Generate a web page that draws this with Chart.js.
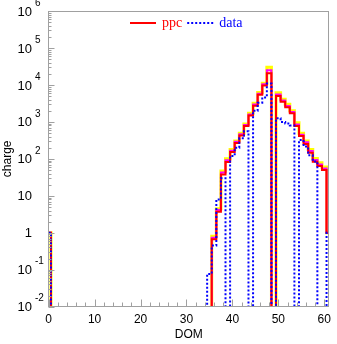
<!DOCTYPE html>
<html>
<head>
<meta charset="utf-8">
<script src="https://cdn.jsdelivr.net/npm/chart.js@4/dist/chart.umd.min.js"></script>
<style>
  html, body { margin: 0; padding: 0; background: #fff; }
  #c { display: block; }
</style>
</head>
<body>
<canvas id="c" width="337" height="344" style="width:337px;height:344px"></canvas>
<script>
// DOM number of each bin (bins are centred on the integers)
const dom = [];
for (let i = 0; i <= 61; i++) dom.push(i);

// charge per DOM (0 = empty bin)
//                 0     1  2  3  4  5  6  7  8  9
const ppc = [      1,    0, 0, 0, 0, 0, 0, 0, 0, 0,
                   0,    0, 0, 0, 0, 0, 0, 0, 0, 0,
                   0,    0, 0, 0, 0, 0, 0, 0, 0, 0,
                   0,    0, 0, 0, 0, 0, 0.67, 3.7, 38, 82,
                 153,  270, 430, 780, 1480, 2750, 5400, 9650, 20600, 0,
                5000, 3500, 2480, 1710, 775, 415, 252, 147, 84, 64,
                  50,    1];
const ppcHi = [    1,    0, 0, 0, 0, 0, 0, 0, 0, 0,
                   0,    0, 0, 0, 0, 0, 0, 0, 0, 0,
                   0,    0, 0, 0, 0, 0, 0, 0, 0, 0,
                   0,    0, 0, 0, 0, 0, 0.8, 4.5, 47, 100,
                 178,  305, 490, 880, 1710, 3200, 6200, 11100, 30000, 0,
                6100, 4100, 3000, 2000, 950, 490, 305, 180, 103, 78,
                  60,    1];
const ppcMid = [   1,    0, 0, 0, 0, 0, 0, 0, 0, 0,
                   0,    0, 0, 0, 0, 0, 0, 0, 0, 0,
                   0,    0, 0, 0, 0, 0, 0, 0, 0, 0,
                   0,    0, 0, 0, 0, 0, 0.73, 4.1, 43, 92,
                 165,  290, 460, 830, 1590, 2950, 5800, 10400, 25000, 0,
                5500, 3800, 2700, 1850, 850, 450, 280, 163, 93, 70,
                  55,    1];
const data = [     1,    0, 0, 0, 0, 0, 0, 0, 0, 0,
                   0,    0, 0, 0, 0, 0, 0, 0, 0, 0,
                   0,    0, 0, 0, 0, 0, 0, 0, 0, 0,
                   0,    0, 0, 0, 0, 0.077, 0.45, 8, 30, 0,
                 120,  200, 360, 560, 0, 2000, 3300, 4600, 11000, 0,
                1250, 1000, 900, 800, 0, 325, 215, 125, 85, 0,
                   0,    1];

const xTicks = [0, 10, 20, 30, 40, 50, 60];
const yDecades = [-2, -1, 0, 1, 2, 3, 4, 5, 6];
const legendItems = [
  { text: 'ppc', color: '#ff0000', dash: [] },
  { text: 'data', color: '#0000ff', dash: [2, 2] }
];

// empty bins go below the frame so the step line drops to the bottom edge
const EMPTY = 1e-5;
function toPoints(vals) {
  return vals.map((v, i) => ({ x: dom[i], y: v > 0 ? v : EMPTY }));
}

const frameAndTicks = {
  id: 'frameAndTicks',
  afterDatasetsDraw(chart) {
    const { ctx, chartArea: a, scales: { x, y } } = chart;
    const L = Math.floor(a.left) + 0.5;
    const R = Math.floor(a.right) + 0.5;
    const T = Math.floor(a.top) + 0.5;
    const B = Math.floor(a.bottom) + 0.5;
    ctx.save();
    ctx.strokeStyle = '#a0a0a0';
    ctx.lineWidth = 1;
    ctx.strokeRect(L, T, R - L, B - T);

    ctx.beginPath();
    for (let v = 0; v <= 61; v += 2) {
      const px = Math.round(x.getPixelForValue(v)) + 0.5;
      const len = v % 10 === 0 ? 7 : 4;
      ctx.moveTo(px, B);
      ctx.lineTo(px, B - len);
    }
    yDecades.forEach(e => {
      const py = Math.round(y.getPixelForValue(Math.pow(10, e))) + 0.5;
      ctx.moveTo(L, py);
      ctx.lineTo(L + 6, py);
      if (e < 6) {
        for (let m = 2; m <= 9; m++) {
          const pm = Math.round(y.getPixelForValue(m * Math.pow(10, e))) + 0.5;
          ctx.moveTo(L, pm);
          ctx.lineTo(L + 3, pm);
        }
      }
    });
    ctx.stroke();

    // y labels: 10 with a raised exponent
    ctx.fillStyle = '#000';
    yDecades.forEach(e => {
      const py = y.getPixelForValue(Math.pow(10, e));
      ctx.textAlign = 'right';
      ctx.textBaseline = 'middle';
      ctx.font = '13px "Liberation Sans", Arial, sans-serif';
      ctx.fillText(e === 0 ? '1' : '10', 32, py + 1);
      if (e !== 0 && e !== 1) {
        ctx.textAlign = 'left';
        ctx.font = '10px "Liberation Sans", Arial, sans-serif';
        ctx.fillText(String(e), 35, py - 8);
      }
    });

    // legend row inside the frame, near the top
    ctx.font = '14px "Liberation Serif", "Times New Roman", serif';
    ctx.textAlign = 'left';
    ctx.textBaseline = 'middle';
    const ly = a.top + 12;
    let lx = 130;
    legendItems.forEach(it => {
      ctx.strokeStyle = it.color;
      ctx.lineWidth = 2;
      ctx.setLineDash(it.dash);
      ctx.beginPath();
      ctx.moveTo(lx, ly);
      ctx.lineTo(lx + 26, ly);
      ctx.stroke();
      ctx.setLineDash([]);
      ctx.fillStyle = it.color;
      ctx.fillText(it.text, lx + 32, ly);
      lx += 32 + ctx.measureText(it.text).width + 5;
    });
    ctx.restore();
  }
};

new Chart(document.getElementById('c'), {
  type: 'line',
  data: {
    datasets: [
      { label: 'ppc', data: toPoints(ppc), borderColor: '#ff0000', borderWidth: 2, stepped: 'middle', order: 1 },
      { label: 'data', data: toPoints(data), borderColor: '#0000ff', borderWidth: 2, borderDash: [2, 2], stepped: 'middle', order: 0 },
      { label: 'ppc mid', data: toPoints(ppcMid), borderColor: '#ff00ff', borderWidth: 2, stepped: 'middle', order: 2 },
      { label: 'ppc hi', data: toPoints(ppcHi), borderColor: '#ffff00', borderWidth: 3, stepped: 'middle', order: 3 }
    ]
  },
  options: {
    responsive: false,
    animation: false,
    layout: { padding: { left: 0, top: 11, right: 4.7, bottom: 0 } },
    elements: { point: { radius: 0 }, line: { tension: 0, borderJoinStyle: 'miter' } },
    plugins: {
      tooltip: { enabled: false },
      legend: { display: false }
    },
    scales: {
      x: {
        type: 'linear',
        min: 0,
        max: 61,
        grid: { display: false, drawTicks: false },
        border: { display: false },
        ticks: {
          stepSize: 10,
          includeBounds: false,
          maxRotation: 0,
          padding: 6,
          color: '#000',
          font: { family: '"Liberation Sans", Arial, sans-serif', size: 12 },
          callback: v => (xTicks.includes(v) ? String(v) : '')
        },
        title: {
          display: true,
          text: 'DOM',
          color: '#000',
          padding: { top: 0, bottom: 2 },
          font: { family: '"Liberation Sans", Arial, sans-serif', size: 12 }
        },
        afterFit: s => { s.height = 37.3; }
      },
      y: {
        type: 'logarithmic',
        min: 0.01,
        max: 1e6,
        grid: { display: false, drawTicks: false },
        border: { display: false },
        ticks: { display: false },
        title: {
          display: true,
          text: 'charge',
          color: '#000',
          padding: { top: 0, bottom: 0 },
          font: { family: '"Liberation Sans", Arial, sans-serif', size: 12 }
        },
        afterFit: s => { s.width = 48.7; }
      }
    }
  },
  plugins: [frameAndTicks]
});
</script>
</body>
</html>
